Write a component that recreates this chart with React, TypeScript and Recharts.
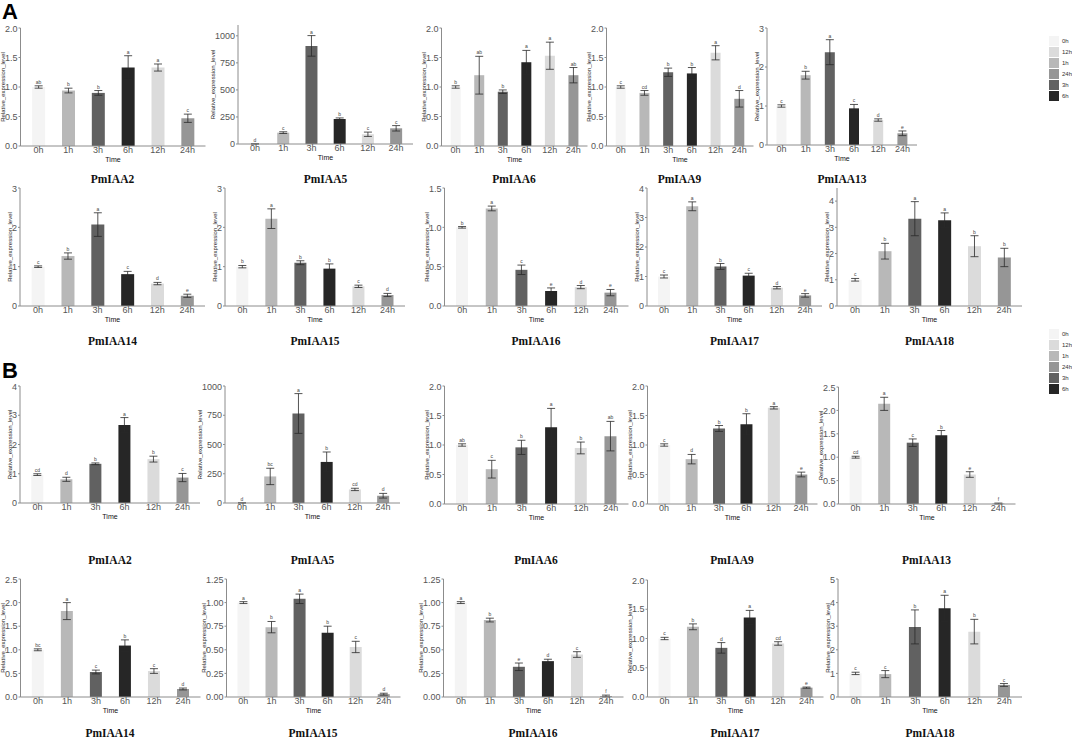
import { BarChart, Bar, XAxis, YAxis, Cell, ErrorBar, LabelList } from 'recharts';

const times = ['0h', '1h', '3h', '6h', '12h', '24h'];
const timeColors = ['#f4f4f4', '#b8b8b8', '#616161', '#262626', '#dbdbdb', '#969696'];
const legendOrder = ['0h', '12h', '1h', '24h', '3h', '6h'];

// ---- panel A ----
const aIAA2 = [1.0, 0.94, 0.9, 1.33, 1.33, 0.47];
const aIAA2Err = [0.02, 0.04, 0.04, 0.2, 0.06, 0.07];
const aIAA2Sig = ['ab', 'b', 'b', 'a', 'a', 'c'];

const aIAA5 = [1, 105, 907, 231, 90, 145];
const aIAA5Err = [1, 8, 95, 10, 20, 25];
const aIAA5Sig = ['d', 'c', 'a', 'b', 'c', 'c'];

const aIAA6 = [1.0, 1.2, 0.92, 1.42, 1.53, 1.2];
const aIAA6Err = [0.02, 0.32, 0.03, 0.2, 0.23, 0.13];
const aIAA6Sig = ['b', 'ab', 'b', 'a', 'a', 'ab'];

const aIAA9 = [1.0, 0.9, 1.25, 1.23, 1.58, 0.8];
const aIAA9Err = [0.02, 0.04, 0.07, 0.1, 0.12, 0.14];
const aIAA9Sig = ['c', 'cd', 'b', 'b', 'a', 'd'];

const aIAA13 = [1.0, 1.79, 2.38, 0.94, 0.64, 0.3];
const aIAA13Err = [0.03, 0.1, 0.32, 0.1, 0.03, 0.06];
const aIAA13Sig = ['c', 'b', 'a', 'c', 'd', 'e'];

const aIAA14 = [1.0, 1.27, 2.07, 0.81, 0.57, 0.26];
const aIAA14Err = [0.02, 0.08, 0.3, 0.07, 0.03, 0.04];
const aIAA14Sig = ['c', 'b', 'a', 'c', 'd', 'e'];

const aIAA15 = [1.0, 2.22, 1.1, 0.95, 0.5, 0.28];
const aIAA15Err = [0.03, 0.25, 0.05, 0.12, 0.03, 0.04];
const aIAA15Sig = ['b', 'a', 'b', 'b', 'c', 'd'];

const aIAA16 = [1.0, 1.24, 0.46, 0.19, 0.24, 0.17];
const aIAA16Err = [0.01, 0.03, 0.06, 0.04, 0.02, 0.04];
const aIAA16Sig = ['b', 'a', 'c', 'e', 'd', 'e'];

const aIAA17 = [1.0, 3.38, 1.34, 1.03, 0.62, 0.36];
const aIAA17Err = [0.05, 0.15, 0.1, 0.08, 0.04, 0.06];
const aIAA17Sig = ['c', 'a', 'b', 'c', 'd', 'e'];

const aIAA18 = [1.0, 2.09, 3.33, 3.27, 2.28, 1.85];
const aIAA18Err = [0.05, 0.3, 0.65, 0.28, 0.4, 0.35];
const aIAA18Sig = ['c', 'b', 'a', 'a', 'b', 'b'];

// ---- panel B ----
const bIAA2 = [0.97, 0.81, 1.34, 2.67, 1.5, 0.87];
const bIAA2Err = [0.03, 0.07, 0.03, 0.25, 0.1, 0.14];
const bIAA2Sig = ['cd', 'd', 'b', 'a', 'b', 'c'];

const bIAA5 = [1, 227, 765, 351, 116, 62];
const bIAA5Err = [1, 70, 170, 85, 10, 20];
const bIAA5Sig = ['d', 'bc', 'a', 'b', 'cd', 'd'];

const bIAA6 = [1.0, 0.59, 0.96, 1.3, 0.95, 1.15];
const bIAA6Err = [0.02, 0.15, 0.12, 0.32, 0.1, 0.25];
const bIAA6Sig = ['ab', 'c', 'b', 'a', 'b', 'ab'];

const bIAA9 = [1.0, 0.76, 1.28, 1.35, 1.63, 0.5];
const bIAA9Err = [0.02, 0.08, 0.05, 0.18, 0.02, 0.04];
const bIAA9Sig = ['c', 'd', 'b', 'b', 'a', 'e'];

const bIAA13 = [1.0, 2.14, 1.31, 1.47, 0.63, 0.01];
const bIAA13Err = [0.02, 0.14, 0.08, 0.1, 0.06, 0.01];
const bIAA13Sig = ['cd', 'a', 'c', 'b', 'e', 'f'];

const bIAA14 = [1.0, 1.82, 0.53, 1.09, 0.55, 0.17];
const bIAA14Err = [0.02, 0.18, 0.04, 0.12, 0.05, 0.02];
const bIAA14Sig = ['bc', 'a', 'c', 'b', 'c', 'd'];

const bIAA15 = [1.0, 0.74, 1.04, 0.68, 0.53, 0.03];
const bIAA15Err = [0.01, 0.06, 0.05, 0.07, 0.06, 0.01];
const bIAA15Sig = ['a', 'b', 'a', 'b', 'c', 'd'];

const bIAA16 = [1.0, 0.815, 0.32, 0.38, 0.45, 0.01];
const bIAA16Err = [0.01, 0.02, 0.04, 0.02, 0.03, 0.01];
const bIAA16Sig = ['a', 'b', 'e', 'd', 'c', 'f'];

const bIAA17 = [1.0, 1.2, 0.84, 1.36, 0.915, 0.16];
const bIAA17Err = [0.02, 0.05, 0.09, 0.12, 0.03, 0.01];
const bIAA17Sig = ['c', 'b', 'd', 'a', 'cd', 'e'];

const bIAA18 = [1.0, 0.97, 2.97, 3.76, 2.77, 0.51];
const bIAA18Err = [0.05, 0.15, 0.72, 0.55, 0.52, 0.06];
const bIAA18Sig = ['c', 'c', 'b', 'a', 'b', 'c'];

// tick sets
const ticks2 = [0, 0.5, 1, 1.5, 2];
const ticks3 = [0, 1, 2, 3];
const ticks4 = [0, 1, 2, 3, 4];
const ticks5 = [0, 1, 2, 3, 4, 5];
const ticks15 = [0, 0.5, 1, 1.5];
const ticks25 = [0, 0.5, 1, 1.5, 2, 2.5];
const ticks125 = [0, 0.25, 0.5, 0.75, 1, 1.25];
const ticks1000 = [0, 250, 500, 750, 1000];

const textW = (s: string) => s.split('').reduce((w, c) => w + (c === '.' ? 2.5 : 5), 0);

type PanelProps = {
  title: string;
  mean: number[];
  err: number[];
  sig: string[];
  ticks: number[];
  max: number;
  dec: number;
  x0: number;
  x1: number;
  top: number;
  bottom: number;
  titleY: number;
};

function Panel({ title, mean, err, sig, ticks, max, dec, x0, x1, top, bottom, titleY }: PanelProps) {
  const data = times.map((t, i) => ({ time: t, mean: mean[i], err: err[i], sig: sig[i] }));
  const fmt = (v: number) => v.toFixed(dec);
  const tw = Math.max(...ticks.map((t) => textW(fmt(t))));
  const lab = tw + 5;
  const yw = lab + 3;
  const plotH = bottom - top;
  const plotW = x1 - x0;
  const S = plotW / 6.2;
  const mTop = 4;

  const sigLabel = (p: any) => {
    const vb = p.viewBox || p;
    const i = p.index;
    const cx = vb.x + vb.width / 2;
    const y = mTop + plotH - ((mean[i] + err[i]) * plotH) / max - 2;
    return (
      <text x={cx} y={y} textAnchor="middle" fontSize={5} fill="#444" fontFamily="Liberation Sans, Arial">
        {p.value}
      </text>
    );
  };

  return (
    <>
      <div style={{ position: 'absolute', left: x0 - yw, top: top - mTop }}>
        <BarChart
          width={yw + plotW + 2}
          height={plotH + mTop + 16}
          data={data}
          margin={{ top: mTop, right: 2, bottom: 0, left: 0 }}
          barCategoryGap="29%"
          style={{ overflow: 'visible' }}
        >
          <XAxis
            dataKey="time"
            height={16}
            interval={0}
            padding={{ left: S * 0.1, right: S * 0.1 }}
            tickLine={false}
            tickSize={1}
            tickMargin={0}
            axisLine={{ stroke: '#8c8c8c', strokeWidth: 1 }}
            tick={{ fontSize: 9, fill: '#555', fontFamily: 'Liberation Sans, Arial' }}
            label={{ value: 'Time', position: 'insideBottom', offset: 0, fontSize: 7, fill: '#111', fontFamily: 'Liberation Sans, Arial' }}
          />
          <YAxis
            width={yw}
            type="number"
            domain={[0, max]}
            allowDataOverflow
            ticks={ticks}
            tickFormatter={fmt}
            tickSize={2}
            tickMargin={1}
            axisLine={{ stroke: '#8c8c8c', strokeWidth: 1 }}
            tickLine={{ stroke: '#8c8c8c' }}
            tick={{ fontSize: 9, fill: '#555', fontFamily: 'Liberation Sans, Arial' }}
            label={{
              value: 'Relative_expression_level',
              angle: -90,
              position: 'insideLeft',
              offset: 3,
              style: { textAnchor: 'middle', fontSize: 6, fill: '#222', fontFamily: 'Liberation Sans, Arial' },
            }}
          />
          <Bar dataKey="mean" isAnimationActive={false}>
            {data.map((d) => (
              <Cell key={d.time} fill={timeColors[times.indexOf(d.time)]} />
            ))}
            <ErrorBar dataKey="err" width={4} stroke="#2a2a2a" strokeWidth={0.8} direction="y" />
            <LabelList dataKey="sig" content={sigLabel} />
          </Bar>
        </BarChart>
      </div>
      <div
        style={{
          position: 'absolute',
          left: (x0 + x1) / 2 - 60,
          width: 120,
          top: titleY - 8,
          textAlign: 'center',
          fontFamily: 'Liberation Serif, Times New Roman, serif',
          fontWeight: 'bold',
          fontSize: 11.5,
          lineHeight: '16px',
          color: '#111',
        }}
      >
        {title}
      </div>
    </>
  );
}

function TimeLegend({ top }: { top: number }) {
  return (
    <div style={{ position: 'absolute', left: 1049, top }}>
      {legendOrder.map((t) => (
        <div key={t} style={{ display: 'flex', alignItems: 'center', height: 11 }}>
          <div style={{ width: 10, height: 10, background: timeColors[times.indexOf(t)] }} />
          <span style={{ marginLeft: 3, fontSize: 6, fontFamily: 'Liberation Sans, Arial', color: '#333' }}>{t}</span>
        </div>
      ))}
    </div>
  );
}

const panels: PanelProps[] = [
  { title: 'PmIAA2', mean: aIAA2, err: aIAA2Err, sig: aIAA2Sig, ticks: ticks2, max: 2, dec: 1, x0: 20, x1: 205, top: 28, bottom: 146, titleY: 179 },
  { title: 'PmIAA5', mean: aIAA5, err: aIAA5Err, sig: aIAA5Sig, ticks: ticks1000, max: 1100, dec: 0, x0: 238, x1: 413, top: 25, bottom: 144, titleY: 179 },
  { title: 'PmIAA6', mean: aIAA6, err: aIAA6Err, sig: aIAA6Sig, ticks: ticks2, max: 2, dec: 1, x0: 441, x1: 587, top: 28, bottom: 146, titleY: 179 },
  { title: 'PmIAA9', mean: aIAA9, err: aIAA9Err, sig: aIAA9Sig, ticks: ticks2, max: 2, dec: 1, x0: 606, x1: 753, top: 28, bottom: 146, titleY: 179 },
  { title: 'PmIAA13', mean: aIAA13, err: aIAA13Err, sig: aIAA13Sig, ticks: ticks3, max: 3, dec: 0, x0: 767, x1: 917, top: 28, bottom: 145, titleY: 179 },
  { title: 'PmIAA14', mean: aIAA14, err: aIAA14Err, sig: aIAA14Sig, ticks: ticks3, max: 3, dec: 0, x0: 20, x1: 205, top: 188, bottom: 306, titleY: 341 },
  { title: 'PmIAA15', mean: aIAA15, err: aIAA15Err, sig: aIAA15Sig, ticks: ticks3, max: 3, dec: 0, x0: 225, x1: 405, top: 188, bottom: 306, titleY: 341 },
  { title: 'PmIAA16', mean: aIAA16, err: aIAA16Err, sig: aIAA16Sig, ticks: ticks15, max: 1.5, dec: 1, x0: 444, x1: 628, top: 188, bottom: 306, titleY: 341 },
  { title: 'PmIAA17', mean: aIAA17, err: aIAA17Err, sig: aIAA17Sig, ticks: ticks4, max: 4, dec: 0, x0: 647, x1: 822, top: 188, bottom: 306, titleY: 341 },
  { title: 'PmIAA18', mean: aIAA18, err: aIAA18Err, sig: aIAA18Sig, ticks: ticks4, max: 4.5, dec: 0, x0: 837, x1: 1022, top: 188, bottom: 306, titleY: 341 },
  { title: 'PmIAA2', mean: bIAA2, err: bIAA2Err, sig: bIAA2Sig, ticks: ticks4, max: 4, dec: 0, x0: 20, x1: 200, top: 386, bottom: 503, titleY: 560 },
  { title: 'PmIAA5', mean: bIAA5, err: bIAA5Err, sig: bIAA5Sig, ticks: ticks1000, max: 1000, dec: 0, x0: 225, x1: 400, top: 386, bottom: 503, titleY: 560 },
  { title: 'PmIAA6', mean: bIAA6, err: bIAA6Err, sig: bIAA6Sig, ticks: ticks2, max: 2, dec: 1, x0: 444, x1: 628, top: 386, bottom: 504, titleY: 560 },
  { title: 'PmIAA9', mean: bIAA9, err: bIAA9Err, sig: bIAA9Sig, ticks: ticks2, max: 2, dec: 1, x0: 647, x1: 817, top: 386, bottom: 504, titleY: 560 },
  { title: 'PmIAA13', mean: bIAA13, err: bIAA13Err, sig: bIAA13Sig, ticks: ticks25, max: 2.5, dec: 1, x0: 838, x1: 1015, top: 387, bottom: 504, titleY: 560 },
  { title: 'PmIAA14', mean: bIAA14, err: bIAA14Err, sig: bIAA14Sig, ticks: ticks25, max: 2.5, dec: 1, x0: 20, x1: 200, top: 579, bottom: 697, titleY: 733 },
  { title: 'PmIAA15', mean: bIAA15, err: bIAA15Err, sig: bIAA15Sig, ticks: ticks125, max: 1.25, dec: 2, x0: 226, x1: 400, top: 579, bottom: 697, titleY: 733 },
  { title: 'PmIAA16', mean: bIAA16, err: bIAA16Err, sig: bIAA16Sig, ticks: ticks125, max: 1.25, dec: 2, x0: 443, x1: 623, top: 579, bottom: 697, titleY: 733 },
  { title: 'PmIAA17', mean: bIAA17, err: bIAA17Err, sig: bIAA17Sig, ticks: ticks2, max: 2, dec: 1, x0: 647, x1: 823, top: 580, bottom: 697, titleY: 733 },
  { title: 'PmIAA18', mean: bIAA18, err: bIAA18Err, sig: bIAA18Sig, ticks: ticks5, max: 5, dec: 0, x0: 838, x1: 1022, top: 579, bottom: 697, titleY: 733 },
];

export default function App() {
  return (
    <div style={{ position: 'absolute', left: 0, top: 0, width: 1072, height: 739, background: '#fff', overflow: 'hidden' }}>
      <div style={{ position: 'absolute', left: 2, top: -1, fontSize: 22, fontWeight: 'bold', fontFamily: 'Liberation Sans, Arial' }}>A</div>
      <div style={{ position: 'absolute', left: 2, top: 358, fontSize: 22, fontWeight: 'bold', fontFamily: 'Liberation Sans, Arial' }}>B</div>
      {panels.map((p, i) => (
        <Panel key={i} {...p} />
      ))}
      <TimeLegend top={35} />
      <TimeLegend top={328} />
    </div>
  );
}
